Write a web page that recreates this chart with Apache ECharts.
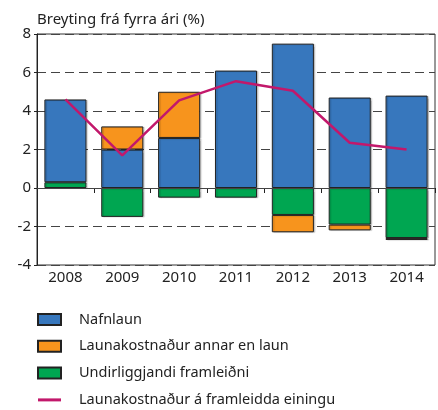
<!DOCTYPE html>
<html>
<head>
<meta charset="utf-8">
<script src="https://cdn.jsdelivr.net/npm/echarts@6/dist/echarts.min.js"></script>
<style>
  html, body { margin: 0; padding: 0; background: #fff; }
  #chart { width: 438px; height: 410px; }
</style>
</head>
<body>
<div id="chart"></div>
<script>
var years = ['2008', '2009', '2010', '2011', '2012', '2013', '2014'];
var nafnlaun = [4.3, 2.0, 2.6, 6.1, 7.5, 4.7, 4.8];
var annarKostn = [null, 1.2, 2.4, null, -0.9, -0.3, -0.1];
var framleidni = [0.3, -1.5, -0.5, -0.5, -1.4, -1.9, -2.6];
var kostnEining = [4.6, 1.7, 4.55, 5.55, 5.05, 2.35, 2.0];

var names = ['Nafnlaun', 'Launakostnaður annar en laun', 'Undirliggjandi framleiðni', 'Launakostnaður á framleidda einingu'];
var font = 'Noto Sans';

var barStyle = function (color) {
    return {
        color: color, borderColor: '#222', borderWidth: 1,
        shadowColor: 'rgba(0,0,0,0.18)', shadowOffsetX: 1.5, shadowOffsetY: 0.5, shadowBlur: 1
    };
};

var chart = echarts.init(document.getElementById('chart'));
chart.setOption({
    animation: false,
    textStyle: { fontFamily: font, color: '#222' },
    title: {
        text: 'Breyting frá fyrra ári (%)',
        left: 32, top: 7,
        textStyle: { fontFamily: font, fontSize: 15, fontWeight: 'normal', color: '#222' }
    },
    grid: { left: 37, right: 3, top: 34, bottom: 145, show: true, borderColor: '#333', borderWidth: 1 },
    legend: {
        orient: 'vertical', left: 37, top: 312, padding: 0, height: 120,
        itemWidth: 23, itemHeight: 11, itemGap: 11.8,
        data: [
            { name: names[0], icon: 'rect' },
            { name: names[1], icon: 'rect' },
            { name: names[2], icon: 'rect' },
            { name: names[3], icon: 'path://M0,0H23V3H0Z' }
        ],
        textStyle: { fontFamily: font, fontSize: 14.5, color: '#222', padding: [0, 0, 0, 13] }
    },
    xAxis: {
        type: 'category', data: years,
        axisLine: { lineStyle: { color: '#222' } },
        axisTick: { show: true, length: 5, lineStyle: { color: '#222' } },
        axisLabel: { fontSize: 15, color: '#222', margin: 5 },
        splitLine: { show: false }
    },
    yAxis: {
        type: 'value', min: -4, max: 8, interval: 2,
        axisLine: { show: true, lineStyle: { color: '#222' } },
        axisTick: { show: true, length: 3, lineStyle: { color: '#222' } },
        axisLabel: { fontSize: 15, color: '#222', margin: 6 },
        splitLine: { show: true, lineStyle: { color: '#444', type: [9, 5] } }
    },
    series: [
        {
            name: names[2], type: 'bar', stack: 'a', data: framleidni,
            barCategoryGap: '26%', itemStyle: barStyle('#00a651'),
            markLine: {
                silent: true, symbol: 'none', label: { show: false },
                lineStyle: { color: '#444', type: 'solid', width: 1 },
                data: [{ yAxis: 0 }]
            }
        },
        { name: names[0], type: 'bar', stack: 'a', data: nafnlaun, itemStyle: barStyle('#3777bd') },
        { name: names[1], type: 'bar', stack: 'a', data: annarKostn, itemStyle: barStyle('#f7941d') },
        {
            name: names[3], type: 'line', data: kostnEining, symbol: 'none', z: 5,
            itemStyle: { color: '#c2186b' },
            lineStyle: { color: '#c2186b', width: 2.5 }
        }
    ]
});
</script>
</body>
</html>
